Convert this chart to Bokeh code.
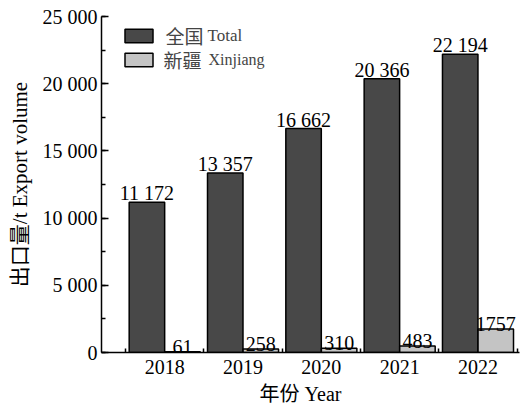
from bokeh.plotting import figure
from bokeh.models import (Range1d, FixedTicker, SingleIntervalTicker, Legend, LegendItem,
                          Label, ColumnDataSource)
from bokeh.embed import file_html
from bokeh.resources import INLINE
from bokeh.core.properties import value

years = ["2018", "2019", "2020", "2021", "2022"]
total = [11172, 13357, 16662, 20366, 22194]
xinjiang = [61, 258, 310, 483, 1757]
total_labels = ["11 172", "13 357", "16 662", "20 366", "22 194"]
xinjiang_labels = ["61", "258", "310", "483", "1757"]
y_ticks = [0, 5000, 10000, 15000, 20000, 25000]
y_tick_labels = ["0", "5 000", "10 000", "15 000", "20 000", "25 000"]

SERIF = "'Liberation Serif', 'Noto Sans CJK SC'"
CJK = "'Noto Sans CJK SC'"
DARK = "#484848"
LIGHT = "#c4c4c4"

idx = list(range(len(years)))
off = 0.227
bw = 0.453
src = ColumnDataSource(dict(
    x_t=[i - off for i in idx], x_x=[i + off for i in idx],
    total=total, xinjiang=xinjiang,
    tl=total_labels, xl=xinjiang_labels))

W, H = 524, 407
BL, BR, BT, BB = 101, 5, 16, 54
FH = H - BT - BB

p = figure(width=W, height=H, output_backend="svg", toolbar_location=None,
           x_range=Range1d(-0.807, 4.53), y_range=Range1d(0, 25000),
           min_border_left=BL, min_border_right=BR, min_border_top=BT, min_border_bottom=BB)
p.outline_line_color = None
p.xgrid.visible = False
p.ygrid.visible = False
p.background_fill_color = "white"

r1 = p.vbar(x="x_t", top="total", width=bw, bottom=0, source=src,
            fill_color=DARK, line_color="black", line_width=1.5)
r2 = p.vbar(x="x_x", top="xinjiang", width=bw, bottom=0, source=src,
            fill_color=LIGHT, line_color="black", line_width=1.5)

p.text(x="x_t", y="total", text="tl", source=src, text_align="center",
       text_baseline="bottom", y_offset=2, text_font=value(SERIF),
       text_font_size="20px", text_color="black")
p.text(x="x_x", y="xinjiang", text="xl", source=src, text_align="center",
       text_baseline="bottom", y_offset=2, text_font=value(SERIF),
       text_font_size="20px", text_color="black")

# x axis
xa = p.xaxis[0]
xa.ticker = FixedTicker(ticks=idx, minor_ticks=[i - 0.5 for i in idx] + [idx[-1] + 0.5])
xa.major_label_overrides = {i: y for i, y in zip(idx, years)}
xa.major_tick_in = 0
xa.major_tick_out = 0
xa.minor_tick_in = 4
xa.minor_tick_out = 0
xa.major_label_text_font = SERIF
xa.major_label_text_font_size = "20px"
xa.major_label_text_color = "black"
xa.major_label_standoff = 7
xa.axis_label = "年份 Year" + "\u00a0" * 4
xa.axis_label_text_font = SERIF
xa.axis_label_text_font_size = "20px"
xa.axis_label_text_font_style = "normal"
xa.axis_label_text_color = "black"
xa.axis_label_standoff = 6
xa.axis_line_width = 1.5
xa.axis_line_color = "black"
xa.minor_tick_line_color = "black"
xa.minor_tick_line_width = 1.5

# y axis
ya = p.yaxis[0]
ya.ticker = SingleIntervalTicker(interval=5000, num_minor_ticks=2)
ya.major_label_overrides = {t: l for t, l in zip(y_ticks, y_tick_labels)}
ya.major_tick_in = 7
ya.major_tick_out = 0
ya.minor_tick_in = 4
ya.minor_tick_out = 0
ya.major_label_text_font = SERIF
ya.major_label_text_font_size = "20px"
ya.major_label_text_color = "black"
ya.major_label_standoff = 4
ya.axis_label = "出口量/t Export volume"
ya.axis_label_text_font = SERIF
ya.axis_label_text_font_size = "21px"
ya.axis_label_text_font_style = "normal"
ya.axis_label_text_color = "black"
ya.axis_label_standoff = 8
ya.axis_line_width = 1.5
ya.axis_line_color = "black"
ya.major_tick_line_color = "black"
ya.major_tick_line_width = 1.5
ya.minor_tick_line_color = "black"
ya.minor_tick_line_width = 1.5

# legend: boxes from Legend, texts from Labels
legend = Legend(items=[LegendItem(label=" ", renderers=[r1]),
                       LegendItem(label=" ", renderers=[r2])],
                location=(20, FH - 53), margin=0, padding=0, spacing=7,
                glyph_width=35, glyph_height=17, label_height=17, label_width=1,
                label_standoff=0, border_line_color=None,
                background_fill_alpha=0, label_text_font_size="1px")
p.add_layout(legend)

for txt, x, y, font, size in [("全国", 64, FH - 20, CJK, "19px"),
                              ("Total", 106, FH - 20, SERIF, "17px"),
                              ("新疆", 62, FH - 44, CJK, "19px"),
                              ("Xinjiang", 107, FH - 44, SERIF, "16px")]:
    p.add_layout(Label(x=x, y=y, x_units="screen", y_units="screen", text=txt,
                       text_font=font, text_font_size=size, text_baseline="middle"))

open("out.html", "w").write(file_html(p, INLINE))
